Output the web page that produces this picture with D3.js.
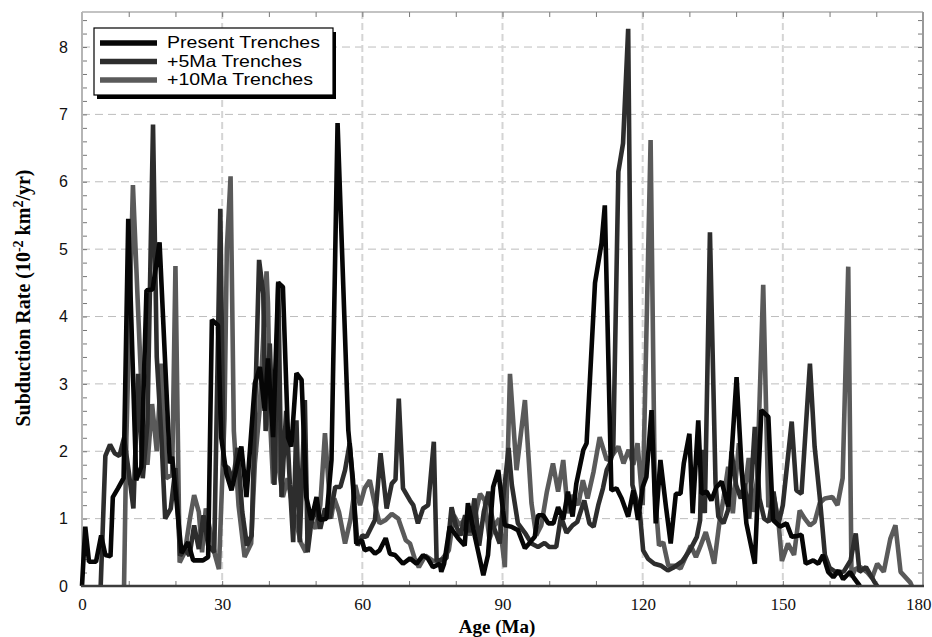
<!DOCTYPE html>
<html><head><meta charset="utf-8">
<script src="https://cdn.jsdelivr.net/npm/d3@7"></script>
<style>body{margin:0;background:#fff}svg{display:block}</style>
</head><body>
<svg id="c" width="932" height="637"></svg>
<script>
// ---------- data ----------
const seriesNames = ["Present Trenches", "+5Ma Trenches", "+10Ma Trenches"];
const xTicks = [0, 30, 60, 90, 120, 150, 180];
const yTicks = [0, 1, 2, 3, 4, 5, 6, 7, 8];

const presentAge = [0,0.7,1.5,3,4.1,5,6.1,6.6,7.7,8.9,9.9,11.6,12.7,13.8,15.1,16.6,18.8,19.3,21.3,22.7,23.8,25.9,27,27.8,29.1,29.8,30.9,32,34.1,35.2,37,38.1,39.1,39.8,40.9,42,43,44.1,44.8,45.9,47,48,49.1,50.2,50.9,52.3,53.4,54.7,57,58,58.7,59.9,60.5,61.6,62.7,63.7,65,65.9,67,68.7,70.2,71.6,73,74,75.1,76.6,76.9,77.5,78.7,80.5,81.9,82.6,84.1,85.9,86.9,88,89.1,90.1,90.5,91.9,93.3,94.8,95.8,96.9,97.6,98.7,99.8,100.9,101.9,103,104,105,105.8,107.3,108,109.8,111.2,111.9,113.3,114.4,115.5,116.9,118,119,120,120.8,121.9,122.8,123.8,125,126,127.1,128.1,128.8,130,130.7,131.9,132.6,133.7,134.7,135.8,136.9,138.3,140.1,141.2,142.2,144,145.4,146.9,147.9,149.4,150.8,151.9,152.9,154,154.9,156.5,157.6,158.6,159.7,160.8,161.9,162.9,164.4,165.2,166.5];
const presentRate = [0,0.88,0.36,0.36,0.75,0.46,0.44,1.32,1.45,1.6,5.45,1.57,1.77,4.39,4.4,5.1,1.82,1.92,0.49,0.65,0.38,0.38,0.43,3.95,3.87,2.2,1.67,1.42,2.07,1.32,3.01,3.25,2.6,3.38,2.21,4.5,4.44,2.2,2.07,3.16,3.06,1.32,0.98,1.32,0.98,1.0,1.87,6.87,2.31,1.57,0.63,0.68,0.53,0.56,0.48,0.53,0.71,0.48,0.46,0.33,0.41,0.33,0.46,0.41,0.28,0.33,0.21,0.33,0.88,0.71,0.6,1.23,0.73,0.16,0.46,1.47,1.72,1.12,0.9,0.88,0.83,0.56,0.64,0.73,1.05,1.05,0.93,0.93,1.17,0.99,1.4,1.03,1.52,2.02,2.12,4.5,5.09,5.65,1.42,1.45,1.3,1.03,1.42,0.98,1.47,1.62,2.61,0.93,1.87,1.17,0.63,1.37,1.37,1.82,2.26,1.08,2.46,1.37,1.4,1.27,1.47,1.55,1.18,3.1,1.72,0.93,0.33,2.61,2.51,0.98,0.88,0.93,0.73,0.74,0.76,0.33,0.38,0.33,0.46,0.21,0.13,0.23,0.1,0.21,0.12,0];

const plus5Age = [4,5,6,7,8,9,10,11,12,13,14,15.2,16,17,17.8,19,20,21,22,23,24,25,26,27,28.3,29.6,30.3,31.3,32.3,33.3,34.3,35.3,36.3,37,37.9,38.8,39.3,40.2,41.2,42,42.7,43.7,44.5,45.2,45.9,46.6,47.7,48.3,49,50,51,52,53,54.2,55.3,56.3,57.3,58.3,59,60,60.9,62.7,63.9,65.2,66.3,67.1,67.8,68.7,70.2,70.9,71.9,73,74.1,75.3,75.9,78,79.1,80,81,82,83,84,85,86,87,88,89.4,90.3,91.3,92,93.3,94.8,96.2,97.6,99,100,101.5,102.5,103.7,105,106,107.5,108.6,109.5,110.5,111.5,112.3,113,113.7,114.8,115.8,116.9,117.8,119.4,120.1,121.2,122.5,124,125.4,126.5,128.5,130.1,131.6,132.3,132.6,133.3,134.4,135.6,136.2,137.3,138.3,139,140,141,141.8,142.8,144,145,146,147,148,149,150,151.9,152.9,154,155.8,156.8,157.9,159,160,161.7,163.1,164.5,165.6,166.4,167.8,169.6,170.2];
const plus5Rate = [0,1.93,2.1,1.97,1.93,2.2,1.7,1.15,3.15,1.6,2.4,6.85,3.4,2.2,1.0,1.15,1.75,0.45,0.55,0.45,0.9,0.55,1.05,0.6,0.5,5.6,1.8,1.75,1.55,2.05,1.1,0.6,0.75,2.5,4.84,4.34,2.3,3.6,1.5,4.52,1.32,2.6,1.5,0.65,2.46,0.65,2.76,0.5,0.9,1.2,0.85,1.15,1.0,1.47,1.47,1.72,2.12,1.2,0.6,0.75,0.73,0.98,1.97,1.15,1.52,1.58,2.78,1.45,1.27,1.2,0.93,1.15,1.2,2.14,0.37,0.41,1.17,0.9,0.75,1.05,0.8,1.3,0.6,1.1,1.4,0.9,0.63,1.4,2.05,1.5,0.93,0.79,0.63,0.58,0.64,0.58,0.58,1.03,0.79,0.9,0.95,1.27,0.93,0.88,1.2,1.45,1.72,1.82,2.02,6.15,6.57,8.27,1.5,1.08,0.53,0.4,0.33,0.3,0.23,0.27,0.37,0.53,0.73,0.98,2.02,1.08,5.25,1.52,1.03,0.93,1.13,2.0,1.5,1.3,1.52,1.0,2.36,1.3,1.0,0.95,1.4,0.9,1.2,2.44,1.42,1.37,3.3,2.07,1.32,0.46,0.27,0.19,0.22,0.38,0.78,0.21,0.28,0.06,0];

const plus10Age = [9,9.5,10.9,12,13,14,15,16,17,18,19.3,20,20.9,22,23.1,24,25,25.7,26.5,27.5,28.5,29.3,30.5,31,31.8,32.5,33.5,34.8,36.2,37,38,39.5,39.8,40.3,40.9,41.5,42,43,44,45,46,46.8,47.9,48.8,50,51,52,53.3,54,55,56.3,57.5,58.5,59.5,60.5,61.6,62.7,63.7,65,66.3,67.7,69.3,70.2,71.2,72.1,73.5,75,76.5,78.5,79.6,80.8,82,83,84,85.2,86.2,87.2,88.3,89.3,90.5,91.6,93,94.8,96.2,97.2,98.3,99.5,100.8,101.9,103,104,105,106.2,107.2,108.2,109.5,110.8,112.3,113.3,114.8,115.9,117,118,118.9,120,121.7,122.6,123.5,124.4,125.5,126.9,128.1,129.2,130.3,131.4,132.4,133.5,134.6,135.3,136.4,137.3,138.3,139.3,140.6,141.7,142.7,143.6,144.5,145.8,146.9,148,149,149.8,151.1,152.4,153.6,154.7,155.8,156.8,157.9,159,160.6,161.7,162.8,164,164.7,165.5,166.6,168.1,169.1,170.2,171.6,173,174.1,175.2,177.3,177.6];
const plus10Rate = [0,2.2,5.95,4.1,2.5,1.8,2.7,2.0,3.3,1.6,1.65,4.75,0.35,0.5,1.0,1.35,1.1,0.5,1.15,0.8,0.45,0.25,2.5,5.0,6.08,2.3,1.2,0.43,0.63,1.82,2.6,4.67,4.2,2.4,1.52,2.6,1.8,1.32,1.6,1.2,0.9,0.65,0.5,1.0,0.85,1.2,2.27,1.0,1.3,1.1,0.63,1.0,1.5,1.2,1.45,1.57,1.2,0.93,0.98,1.07,1.0,0.68,0.63,0.41,0.28,0.45,0.38,0.35,0.53,1.05,0.9,1.0,0.75,1.0,1.37,1.27,0.7,0.9,1.0,0.28,3.15,1.72,2.76,1.23,0.75,0.9,1.4,1.82,1.4,1.87,1.08,1.35,1.2,1.57,1.3,1.7,2.21,1.87,1.92,2.07,1.82,2.02,1.8,2.12,1.2,6.62,1.4,0.6,0.65,0.3,0.3,0.26,0.43,0.6,0.43,0.6,0.8,0.53,0.33,0.93,1.3,1.77,1.08,2.12,1.32,1.9,1.1,1.6,4.47,1.17,1.35,1.0,0.37,0.63,0.46,1.12,1.0,0.9,0.95,1.23,1.3,1.32,1.2,1.6,4.74,0.13,0.25,0.28,0.2,0.12,0.33,0.21,0.7,0.9,0.21,0.05,0];

// ---------- layout ----------
const svg = d3.select("#c");
const L = 82, R = 923, T = 12, B = 586;
const x = d3.scaleLinear().domain([0, 180]).range([L, R]);
const y = d3.scaleLinear().domain([0, 8.52]).range([B, T]);

// grid
const g = svg.append("g");
g.selectAll("line.hg").data(yTicks.filter(v => v > 0)).join("line")
  .attr("x1", L).attr("x2", R).attr("y1", d => y(d)).attr("y2", d => y(d))
  .attr("stroke", "#bdbdbd").attr("stroke-width", 1).attr("stroke-dasharray", "8,5");
g.selectAll("line.vg").data(xTicks.filter(v => v > 0 && v < 180)).join("line")
  .attr("x1", d => x(d)).attr("x2", d => x(d)).attr("y1", T).attr("y2", B)
  .attr("stroke", "#d4d4d4").attr("stroke-width", 2).attr("stroke-dasharray", "7,4");

// minor ticks (inward) using axes
const minorX = d3.range(0, 181, 10);
const minorY = d3.range(0, 8.41, 0.2);
function styleTicks(sel) {
  sel.select(".domain").remove();
  sel.selectAll("line").attr("stroke", "#777").attr("stroke-width", 1);
}
svg.append("g").attr("transform", `translate(0,${B})`)
  .call(d3.axisTop(x).tickValues(minorX).tickSize(5).tickFormat("")).call(styleTicks);
svg.append("g").attr("transform", `translate(0,${T})`)
  .call(d3.axisBottom(x).tickValues(minorX).tickSize(5).tickFormat("")).call(styleTicks);
svg.append("g").attr("transform", `translate(${L},0)`)
  .call(d3.axisRight(y).tickValues(minorY).tickSize(5).tickFormat("")).call(styleTicks);
svg.append("g").attr("transform", `translate(${R},0)`)
  .call(d3.axisLeft(y).tickValues(minorY).tickSize(5).tickFormat("")).call(styleTicks);

// frame
svg.append("line").attr("x1", L).attr("x2", R).attr("y1", T).attr("y2", T).attr("stroke", "#888").attr("stroke-width", 1.2);
svg.append("line").attr("x1", R).attr("x2", R).attr("y1", T).attr("y2", B).attr("stroke", "#999").attr("stroke-width", 2);
svg.append("line").attr("x1", L).attr("x2", L).attr("y1", T).attr("y2", B).attr("stroke", "#b5b5b5").attr("stroke-width", 2);

// tick labels
const xAx = svg.append("g").attr("transform", `translate(0,${B})`)
  .call(d3.axisBottom(x).tickValues(xTicks).tickSize(0).tickPadding(12).tickFormat(d3.format("d")));
xAx.select(".domain").remove();
xAx.selectAll("text").attr("font-family", "'Liberation Serif','Times New Roman',serif")
  .attr("font-size", 17).attr("fill", "#111");
// keep the last label inside the page
xAx.selectAll(".tick").filter(d => d === 180).select("text")
  .attr("text-anchor", "end").attr("x", 8);
const yAx = svg.append("g").attr("transform", `translate(${L},0)`)
  .call(d3.axisLeft(y).tickValues(yTicks).tickSize(0).tickPadding(14).tickFormat(d3.format("d")));
yAx.select(".domain").remove();
yAx.selectAll("text").attr("font-family", "'Liberation Sans',Arial,sans-serif")
  .attr("font-size", 16).attr("fill", "#111");

// series
const colors = ["#060606", "#2d2d2d", "#5a5a5a"];
const series = [
  d3.zip(presentAge, presentRate),
  d3.zip(plus5Age, plus5Rate),
  d3.zip(plus10Age, plus10Rate)
];
const line = d3.line().x(d => x(d[0])).y(d => y(d[1]));
[2, 1, 0].forEach(i => {
  svg.append("path").datum(series[i]).attr("d", line)
    .attr("fill", "none").attr("stroke", colors[i]).attr("stroke-width", 4.6)
    .attr("stroke-linejoin", "bevel");
});

// bottom axis line (drawn over)
svg.append("line").attr("x1", L - 1).attr("x2", R + 1).attr("y1", B).attr("y2", B).attr("stroke", "#3c3c3c").attr("stroke-width", 2.5);

// legend
const lg = svg.append("g");
lg.append("rect").attr("x", 97).attr("y", 32).attr("width", 239).attr("height", 67).attr("fill", "#000");
lg.append("rect").attr("x", 94).attr("y", 28).attr("width", 239).attr("height", 67)
  .attr("fill", "#fff").attr("stroke", "#000").attr("stroke-width", 1.2);
const lgWidths = [153, 135, 146];
seriesNames.forEach((n, i) => {
  const yy = 48 + i * 18.5;
  lg.append("line").attr("x1", 100).attr("x2", 157).attr("y1", yy - 5).attr("y2", yy - 5)
    .attr("stroke", colors[i]).attr("stroke-width", 5.5);
  lg.append("text").attr("x", 167).attr("y", yy).text(n)
    .attr("font-family", "'Liberation Sans',Arial,sans-serif").attr("font-size", 16.5)
    .attr("textLength", lgWidths[i]).attr("lengthAdjust", "spacingAndGlyphs").attr("fill", "#000");
});

// axis titles
svg.append("text").attr("x", 497).attr("y", 633).attr("text-anchor", "middle")
  .attr("font-family", "'Liberation Serif','Times New Roman',serif").attr("font-weight", "bold")
  .attr("font-size", 19).text("Age (Ma)");
const yt = svg.append("text").attr("transform", "translate(30,298) rotate(-90)").attr("text-anchor", "middle")
  .attr("font-family", "'Liberation Serif','Times New Roman',serif").attr("font-weight", "bold")
  .attr("font-size", 20);
yt.append("tspan").text("Subduction Rate (10");
yt.append("tspan").attr("dy", -7).attr("font-size", 14).text("-2");
yt.append("tspan").attr("dy", 7).text(" km");
yt.append("tspan").attr("dy", -7).attr("font-size", 14).text("2");
yt.append("tspan").attr("dy", 7).text("/yr)");
</script>
</body></html>
